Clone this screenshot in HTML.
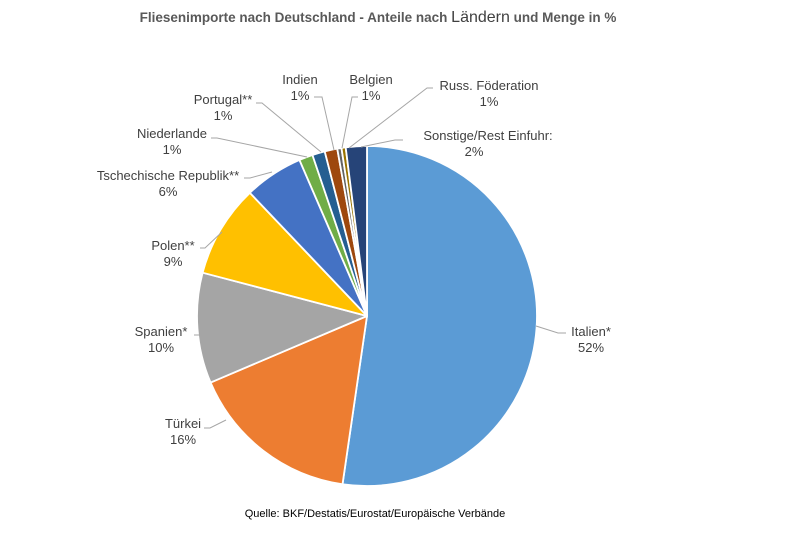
<!DOCTYPE html>
<html><head><meta charset="utf-8"><style>
html,body{margin:0;padding:0;background:#fff;}
svg{display:block;font-family:"Liberation Sans",sans-serif;}
</style></head><body>
<svg id="s" width="795" height="539" viewBox="0 0 795 539">
<text x="378" y="22" text-anchor="middle" font-size="13.5" font-weight="bold" fill="#595959">Fliesenimporte nach Deutschland - Anteile nach <tspan font-size="16" font-weight="normal" fill="#404040">Ländern</tspan> und Menge in %</text>
<g id="pie"></g>
<g stroke="#a6a6a6" stroke-width="1" fill="none">
<polyline points="314,97 322,97 334,150"/>
<polyline points="358,97 352,97 342,148"/>
<polyline points="433,88 427,88 349,148"/>
<polyline points="403,140 395,140 361,147"/>
<polyline points="256,103 262,103 321,152"/>
<polyline points="211,138 217,138 307,157"/>
<polyline points="244,178 250,178 272,172"/>
<polyline points="200,248 205,248 222,232"/>
<polyline points="194,335 200,335"/>
<polyline points="204,428 210,428 226,420"/>
<polyline points="566,333 558,333 536,326"/>
</g>
<g font-size="13" fill="#404040" text-anchor="middle">
<text x="300" y="84">Indien</text><text x="300" y="100">1%</text>
<text x="371" y="84">Belgien</text><text x="371" y="100">1%</text>
<text x="489" y="90">Russ. Föderation</text><text x="489" y="106">1%</text>
<text x="488" y="140">Sonstige/Rest Einfuhr:</text><text x="474" y="156">2%</text>
<text x="223" y="104">Portugal**</text><text x="223" y="120">1%</text>
<text x="172" y="138">Niederlande</text><text x="172" y="154">1%</text>
<text x="168" y="180">Tschechische Republik**</text><text x="168" y="196">6%</text>
<text x="173" y="250">Polen**</text><text x="173" y="266">9%</text>
<text x="161" y="336">Spanien*</text><text x="161" y="352">10%</text>
<text x="183" y="428">Türkei</text><text x="183" y="444">16%</text>
<text x="591" y="336">Italien*</text><text x="591" y="352">52%</text>
</g>
<text x="375" y="517" text-anchor="middle" font-size="11" fill="#000">Quelle: BKF/Destatis/Eurostat/Europäische Verbände</text>
</svg>
<script>
var d=[[52.3,"#5B9BD5"],[16.3,"#ED7D31"],[10.5,"#A5A5A5"],[8.8,"#FFC000"],[5.6,"#4472C4"],[1.3,"#70AD47"],[1.2,"#255E91"],[1.2,"#9E480E"],[0.4,"#636363"],[0.4,"#997300"],[2.0,"#264478"]];
var t=0;d.forEach(function(x){t+=x[0];});
var cx=367,cy=316,r=170,a=0,g=document.getElementById("pie"),h="";
function pt(a){var rad=a/t*2*Math.PI;return [cx+r*Math.sin(rad),cy-r*Math.cos(rad)];}
d.forEach(function(x){var p1=pt(a),p2=pt(a+x[0]);var lg=x[0]/t>0.5?1:0;
h+='<path d="M'+cx+','+cy+' L'+p1[0].toFixed(2)+','+p1[1].toFixed(2)+' A'+r+','+r+' 0 '+lg+' 1 '+p2[0].toFixed(2)+','+p2[1].toFixed(2)+' Z" fill="'+x[1]+'" stroke="#fff" stroke-width="1.8" stroke-linejoin="round"/>';a+=x[0];});
g.innerHTML=h;
</script>
</body></html>
